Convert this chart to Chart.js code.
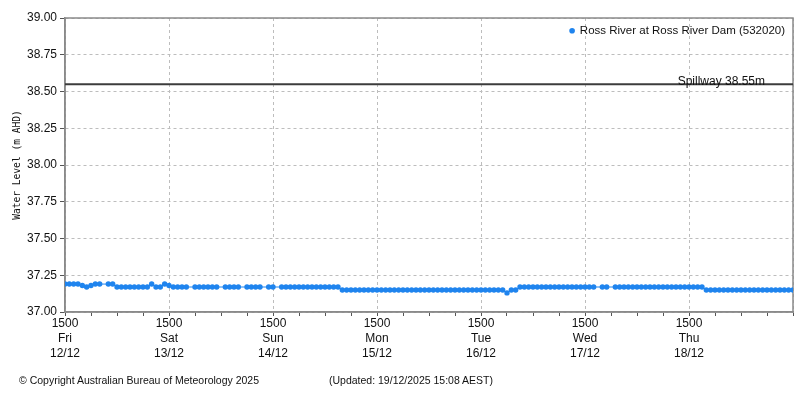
<!DOCTYPE html>
<html>
<head>
<meta charset="utf-8">
<script src="https://cdn.jsdelivr.net/npm/chart.js@4.4.1/dist/chart.umd.min.js"></script>
<style>
  html, body { margin: 0; padding: 0; background: #fff; }
  #wrap { position: relative; width: 800px; height: 400px; }
  .foot { position: absolute; font-family: "Liberation Sans", Arial, sans-serif; font-size: 10.5px; color: #111; white-space: nowrap; }
</style>
</head>
<body>
<div id="wrap">
  <canvas id="c" width="800" height="400"></canvas>
  <div class="foot" style="left:19px; top:374px;">© Copyright Australian Bureau of Meteorology 2025</div>
  <div class="foot" style="left:329px; top:374px;">(Updated: 19/12/2025 15:08 AEST)</div>
</div>
<script>
// Hourly readings from Fri 12/12 15:00 (index 0) to Fri 19/12 15:00 (index 168)
const levels = [
  37.19,37.19,37.19,37.19,37.18,37.17,37.18,37.19,37.19,null,
  37.19,37.19,37.17,37.17,37.17,37.17,37.17,37.17,37.17,37.17,
  37.19,37.17,37.17,37.19,37.18,37.17,37.17,37.17,37.17,null,
  37.17,37.17,37.17,37.17,37.17,37.17,null,37.17,37.17,37.17,
  37.17,null,37.17,37.17,37.17,37.17,null,37.17,37.17,null,
  37.17,37.17,37.17,37.17,37.17,37.17,37.17,37.17,37.17,37.17,
  37.17,37.17,37.17,37.17,37.15,37.15,37.15,37.15,37.15,37.15,
  37.15,37.15,37.15,37.15,37.15,37.15,37.15,37.15,37.15,37.15,
  37.15,37.15,37.15,37.15,37.15,37.15,37.15,37.15,37.15,37.15,
  37.15,37.15,37.15,37.15,37.15,37.15,37.15,37.15,37.15,37.15,
  37.15,37.15,37.13,37.15,37.15,37.17,37.17,37.17,37.17,37.17,
  37.17,37.17,37.17,37.17,37.17,37.17,37.17,37.17,37.17,37.17,
  37.17,37.17,37.17,null,37.17,37.17,null,37.17,37.17,37.17,
  37.17,37.17,37.17,37.17,37.17,37.17,37.17,37.17,37.17,37.17,
  37.17,37.17,37.17,37.17,37.17,37.17,37.17,37.17,37.15,37.15,
  37.15,37.15,37.15,37.15,37.15,37.15,37.15,37.15,37.15,37.15,
  37.15,37.15,37.15,37.15,37.15,37.15,37.15,37.15,37.15
];
const dayNames = ['Fri','Sat','Sun','Mon','Tue','Wed','Thu'];
const dayDates = ['12/12','13/12','14/12','15/12','16/12','17/12','18/12'];
const timeLabel = '1500';
const seriesName = 'Ross River at Ross River Dam (532020)';
const spillwayLevel = 38.55;
const spillwayLabel = 'Spillway 38.55m';
const yTicks = ['37.00','37.25','37.50','37.75','38.00','38.25','38.50','38.75','39.00'];
const yTitle = 'Water Level (m AHD)';

const FONT = '"Liberation Sans", Arial, sans-serif';
const BLUE = '#1f84ee';
const lastHour = levels.length - 1;

const points = levels.map((v, i) => ({ x: i, y: v }));

const framePlugin = {
  id: 'frame',
  afterLayout(chart) {
    // place the legend inside the plot area (top-right), as in the reference
    const lg = chart.legend;
    if (lg) {
      const h = lg.bottom - lg.top;
      lg.top = 22; lg.bottom = 22 + h;
      lg.left -= 5; lg.right -= 5;
    }
  },
  beforeDatasetsDraw(chart) {
    const a = chart.chartArea, ctx = chart.ctx;
    ctx.save();
    ctx.strokeStyle = '#8a8a8a';
    ctx.lineWidth = 1.5;
    ctx.strokeRect(a.left, a.top, a.right - a.left, a.bottom - a.top);
    ctx.restore();
  },
  afterDatasetsDraw(chart) {
    const a = chart.chartArea, ctx = chart.ctx;
    const y = chart.scales.y.getPixelForValue(spillwayLevel);
    ctx.save();
    ctx.font = '12px ' + FONT;
    ctx.fillStyle = '#111';
    ctx.textAlign = 'right';
    ctx.textBaseline = 'alphabetic';
    ctx.fillText(spillwayLabel, a.right - 28, y + 1);
    ctx.restore();
  }
};

new Chart(document.getElementById('c'), {
  type: 'line',
  data: {
    datasets: [
      {
        label: seriesName,
        data: points,
        borderColor: BLUE,
        backgroundColor: BLUE,
        pointBackgroundColor: BLUE,
        pointBorderColor: BLUE,
        pointBorderWidth: 0,
        pointRadius: 2.7,
        borderWidth: 1,
        spanGaps: true,
        tension: 0,
        order: 1
      },
      {
        label: spillwayLabel,
        data: [{ x: 0, y: spillwayLevel }, { x: lastHour, y: spillwayLevel }],
        borderColor: '#3c3c3c',
        borderWidth: 2,
        pointRadius: 0,
        order: 2
      }
    ]
  },
  options: {
    responsive: false,
    animation: false,
    layout: { padding: { left: 0, right: 7, top: 0, bottom: 28 } },
    plugins: {
      tooltip: { enabled: false },
      legend: {
        position: 'top',
        align: 'end',
        maxHeight: 18,
        labels: {
          filter: (item) => item.datasetIndex === 0,
          usePointStyle: true,
          pointStyle: 'circle',
          boxWidth: 4,
          boxHeight: 4,
          padding: 3,
          color: '#111',
          font: { family: FONT, size: 11.5 }
        }
      }
    },
    scales: {
      x: {
        type: 'linear',
        min: 0,
        max: lastHour,
        afterFit: (s) => { s.height = 60; },
        ticks: {
          stepSize: 6,
          autoSkip: false,
          maxRotation: 0,
          padding: 0,
          color: '#111',
          font: { family: FONT, size: 12, lineHeight: 1.25 },
          callback: (v) => {
            if (v % 24 !== 0 || v >= lastHour) return '';
            const d = v / 24;
            return [timeLabel, dayNames[d], dayDates[d]];
          }
        },
        grid: {
          color: (ctx) => (ctx.tick && ctx.tick.value % 24 === 0) ? '#bdbdbd' : 'rgba(0,0,0,0)',
          tickColor: '#555',
          tickLength: 4,
          lineWidth: 1
        },
        border: { color: '#8a8a8a', width: 1.5, dash: [3, 3] }
      },
      y: {
        min: 37,
        max: 39,
        afterFit: (s) => { s.width = 65; },
        ticks: {
          stepSize: 0.25,
          padding: 3,
          color: '#111',
          font: { family: FONT, size: 12 },
          callback: (v) => yTicks[Math.round((v - 37) * 4)]
        },
        grid: {
          color: '#bdbdbd',
          tickColor: '#555',
          tickLength: 5,
          lineWidth: 1
        },
        border: { color: '#8a8a8a', width: 1.5, dash: [3, 3] },
        title: {
          display: true,
          text: yTitle,
          color: '#111',
          font: { family: '"DejaVu Sans Mono", monospace', size: 9.6 },
          padding: { top: 12, bottom: 0 }
        }
      }
    }
  },
  plugins: [framePlugin]
});
</script>
</body>
</html>
